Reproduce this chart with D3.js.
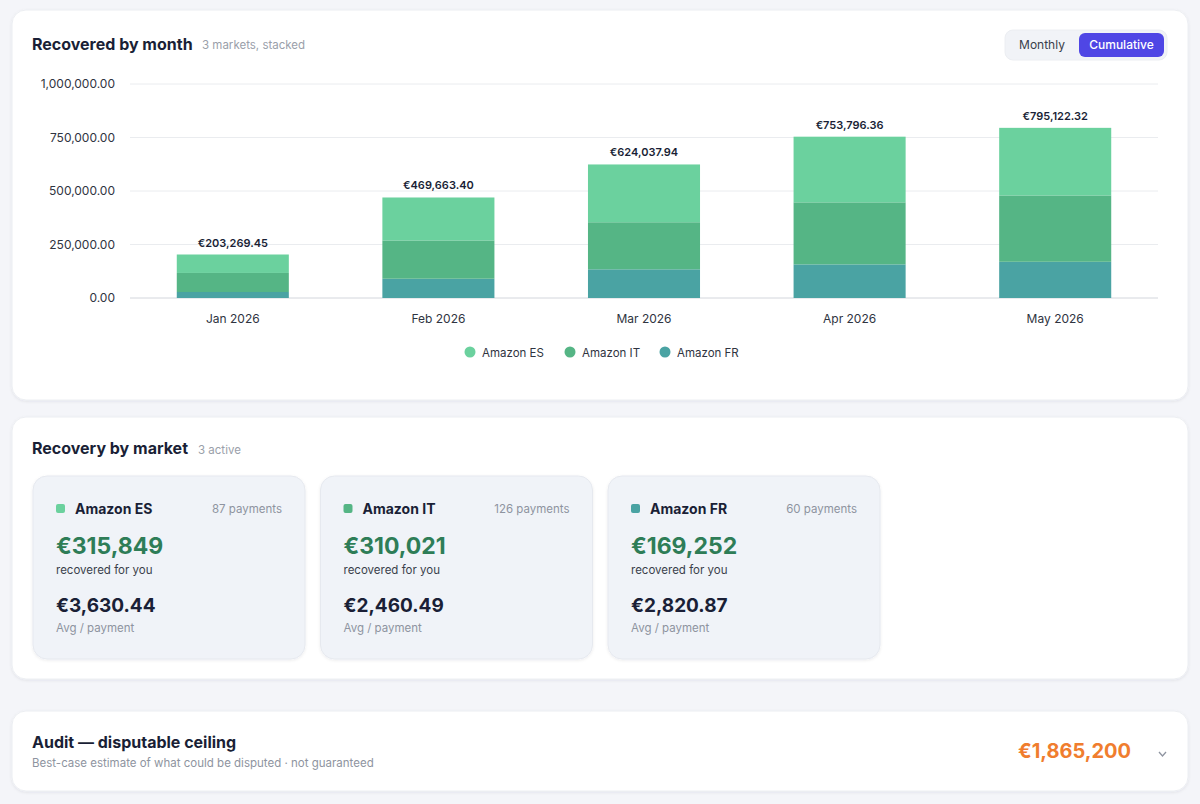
<!DOCTYPE html>
<html>
<head>
<meta charset="utf-8">
<script src="https://cdn.jsdelivr.net/npm/d3@7"></script>
<style>
  html, body { margin: 0; padding: 0; background: #f4f5f9; }
  svg { display: block; font-family: Inter, "Noto Sans", sans-serif; }
</style>
</head>
<body>
<svg id="chart" width="1200" height="804"></svg>
<script>
// chart data (cumulative, per market)
const months = ["Jan 2026", "Feb 2026", "Mar 2026", "Apr 2026", "May 2026"];
const markets = ["Amazon ES", "Amazon IT", "Amazon FR"];
const esValues = [86269.45, 200663.40, 270037.94, 306796.36, 315848.62];
const itValues = [89000, 179000, 220000, 290000, 310021.30];
const frValues = [28000, 90000, 134000, 157000, 169252.40];
const yTicks = [0, 250000, 500000, 750000, 1000000];
const payments = [87, 126, 60];
const auditCeiling = 1865200;

const colors = { "Amazon ES": "#6bd19e", "Amazon IT": "#55b585", "Amazon FR": "#4aa3a3" };

const rows = months.map((m, i) => ({
  month: m,
  "Amazon ES": esValues[i],
  "Amazon IT": itValues[i],
  "Amazon FR": frValues[i]
}));

const svg = d3.select("#chart");

const defs = svg.append("defs");
const shadow = defs.append("filter").attr("id", "shadow")
  .attr("x", "-5%").attr("y", "-5%").attr("width", "110%").attr("height", "115%");
shadow.append("feDropShadow").attr("dx", 0).attr("dy", 1).attr("stdDeviation", 1.5)
  .attr("flood-color", "#1a1f36").attr("flood-opacity", 0.08);

// panels
const panels = [
  { y: 10, h: 390 },
  { y: 417, h: 262 },
  { y: 711, h: 80 }
];
svg.selectAll(".panel").data(panels).join("rect")
  .attr("class", "panel")
  .attr("x", 12).attr("y", (d) => d.y)
  .attr("width", 1176).attr("height", (d) => d.h)
  .attr("rx", 14).attr("fill", "#fff")
  .attr("stroke", "#eceef2").attr("filter", "url(#shadow)");

// panel 1 header
svg.append("text").attr("x", 32).attr("y", 50)
  .attr("font-size", 16).attr("font-weight", 700).attr("fill", "#1a1f36")
  .text("Recovered by month");
svg.append("text").attr("x", 202).attr("y", 49)
  .attr("font-size", 11.5).attr("fill", "#9aa0aa")
  .text("3 markets, stacked");

// toggle
const toggle = svg.append("g");
toggle.append("rect").attr("x", 1005).attr("y", 30).attr("width", 162).attr("height", 30)
  .attr("rx", 8).attr("fill", "#f1f3f7").attr("stroke", "#eceef2");
toggle.append("text").attr("x", 1042).attr("y", 49).attr("text-anchor", "middle")
  .attr("font-size", 12).attr("fill", "#3a3f4b").text("Monthly");
toggle.append("rect").attr("x", 1079).attr("y", 33).attr("width", 85).attr("height", 24)
  .attr("rx", 6).attr("fill", "#4f46e5");
toggle.append("text").attr("x", 1121.5).attr("y", 49).attr("text-anchor", "middle")
  .attr("font-size", 12).attr("font-weight", 500).attr("fill", "#fff").text("Cumulative");

// scales
const x = d3.scaleBand().domain(months).range([130, 1158]).paddingInner(0.455).paddingOuter(0.2275);
const y = d3.scaleLinear().domain([0, 1000000]).range([298, 84]);

const stack = d3.stack().keys(markets.slice().reverse());
const series = stack(rows);

// grid
const grid = svg.append("g");
grid.selectAll("line").data(yTicks).join("line")
  .attr("x1", 130).attr("x2", 1158)
  .attr("y1", (d) => y(d)).attr("y2", (d) => y(d))
  .attr("stroke", (d) => d === 0 ? "#d3d6dc" : "#eaecef")
  .attr("stroke-width", 1);

// y axis
const yAxis = svg.append("g").attr("transform", "translate(115,0)")
  .call(d3.axisLeft(y).tickValues(yTicks).tickFormat(d3.format(",.2f")).tickSize(0).tickPadding(0));
yAxis.select(".domain").remove();
yAxis.selectAll("text").attr("font-size", 12).attr("fill", "#2f3441")
  .attr("font-family", "Inter, sans-serif");

// x axis
const xAxis = svg.append("g").attr("transform", "translate(0,298)")
  .call(d3.axisBottom(x).tickSize(0).tickPadding(16));
xAxis.select(".domain").remove();
xAxis.selectAll("text").attr("font-size", 12).attr("fill", "#2f3441")
  .attr("font-family", "Inter, sans-serif");

// bars
svg.append("g").selectAll("g").data(series).join("g")
  .attr("fill", (d) => colors[d.key])
  .selectAll("rect").data((d) => d).join("rect")
  .attr("x", (d) => x(d.data.month))
  .attr("width", x.bandwidth())
  .attr("y", (d) => y(d[1]))
  .attr("height", (d) => y(d[0]) - y(d[1]));

// totals
const fmtEuro2 = (v) => "€" + d3.format(",.2f")(v);
svg.append("g").selectAll("text").data(rows).join("text")
  .attr("x", (d) => x(d.month) + x.bandwidth() / 2)
  .attr("y", (d) => y(d3.sum(markets, (k) => d[k])) - 8)
  .attr("text-anchor", "middle")
  .attr("font-size", 11).attr("font-weight", 600).attr("fill", "#1a1f36")
  .text((d) => fmtEuro2(d3.sum(markets, (k) => d[k])));

// legend
const legendX = [470, 570, 665];
const legend = svg.append("g").selectAll("g").data(markets).join("g")
  .attr("transform", (d, i) => `translate(${legendX[i]},352)`);
legend.append("circle").attr("r", 5.5).attr("fill", (d) => colors[d]);
legend.append("text").attr("x", 12).attr("y", 4.5)
  .attr("font-size", 11.5).attr("fill", "#2f3441").text((d) => d);

// panel 2
svg.append("text").attr("x", 32).attr("y", 454)
  .attr("font-size", 16).attr("font-weight", 700).attr("fill", "#1a1f36")
  .text("Recovery by market");
svg.append("text").attr("x", 198).attr("y", 454)
  .attr("font-size", 11.5).attr("fill", "#9aa0aa")
  .text(`${markets.length} active`);

const lastIdx = months.length - 1;
const cardsData = markets.map((m, i) => ({
  name: m,
  payments: payments[i],
  total: rows[lastIdx][m],
  avg: rows[lastIdx][m] / payments[i]
}));

const card = svg.append("g").selectAll("g").data(cardsData).join("g")
  .attr("transform", (d, i) => `translate(${33 + i * 287.5},476)`);
card.append("rect").attr("width", 272).attr("height", 183).attr("rx", 14)
  .attr("fill", "#f0f3f8").attr("stroke", "#e6e9ef").attr("filter", "url(#shadow)");
card.append("rect").attr("x", 23).attr("y", 28).attr("width", 9).attr("height", 9)
  .attr("rx", 2).attr("fill", (d) => colors[d.name]);
card.append("text").attr("x", 42).attr("y", 38)
  .attr("font-size", 14).attr("font-weight", 700).attr("fill", "#1a1f36")
  .text((d) => d.name);
card.append("text").attr("x", 249).attr("y", 37).attr("text-anchor", "end")
  .attr("font-size", 11.5).attr("fill", "#8e94a0")
  .text((d) => `${d.payments} payments`);
card.append("text").attr("x", 23).attr("y", 78)
  .attr("font-size", 23).attr("font-weight", 700).attr("fill", "#2e7d57")
  .text((d) => "€" + d3.format(",.0f")(d.total));
card.append("text").attr("x", 23).attr("y", 98)
  .attr("font-size", 11.5).attr("fill", "#3a3f4b")
  .text("recovered for you");
card.append("text").attr("x", 23).attr("y", 136)
  .attr("font-size", 19).attr("font-weight", 700).attr("fill", "#1a1f36")
  .text((d) => fmtEuro2(d.avg));
card.append("text").attr("x", 23).attr("y", 156)
  .attr("font-size", 11.5).attr("fill", "#8e94a0")
  .text("Avg / payment");

// panel 3
svg.append("text").attr("x", 32).attr("y", 748)
  .attr("font-size", 16).attr("font-weight", 700).attr("fill", "#1a1f36")
  .text("Audit — disputable ceiling");
svg.append("text").attr("x", 32).attr("y", 767)
  .attr("font-size", 11.5).attr("fill", "#8e94a0")
  .text("Best-case estimate of what could be disputed · not guaranteed");
svg.append("text").attr("x", 1131).attr("y", 758).attr("text-anchor", "end")
  .attr("font-size", 20).attr("font-weight", 700).attr("fill", "#f07d2e")
  .text("€" + d3.format(",")(auditCeiling));
svg.append("path").attr("d", "M1159,752 L1162.5,756 L1166,752")
  .attr("fill", "none").attr("stroke", "#8e94a0").attr("stroke-width", 1.3);
</script>
</body>
</html>
